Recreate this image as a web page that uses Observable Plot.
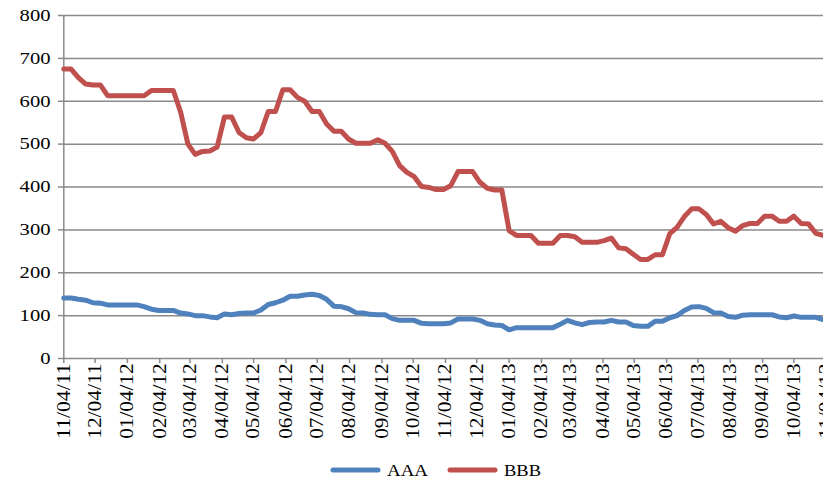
<!DOCTYPE html>
<html>
<head>
<meta charset="utf-8">
<script src="https://cdn.jsdelivr.net/npm/d3@7"></script>
<script src="https://cdn.jsdelivr.net/npm/@observablehq/plot@0.6"></script>
<style>
  html, body { margin: 0; padding: 0; background: #fff; overflow: hidden; }
  #chart svg { display: block; }
  #chart svg text, #legend text { font-family: "Liberation Serif", "Times New Roman", serif; }
  #legend { position: relative; height: 29px; }
  #legend svg { position: absolute; top: 0; left: 0; }
</style>
</head>
<body>
<div id="chart"></div>
<div id="legend"></div>
<script>
// Weekly spreads (bp), Fridays from 4 Nov 2011 to 1 Nov 2013
const seriesNames = ["AAA", "BBB"];
const seriesColors = ["#4F81BD", "#C0504D"];

const aaa = [
  141, 141, 138, 136, 130, 129, 125, 125, 125, 125,
  125, 121, 115, 112, 112, 112, 106, 104, 100, 100,
  97, 95, 104, 102, 105, 106, 106, 113, 126, 130,
  136, 145, 145, 148, 150, 147, 138, 122, 121, 116,
  107, 106, 103, 102, 102, 93, 89, 89, 89, 82,
  81, 81, 81, 83, 92, 92, 92, 89, 81, 78,
  77, 67, 72, 72, 72, 72, 72, 72, 80, 89,
  83, 79, 84, 85, 85, 89, 85, 85, 77, 75,
  75, 87, 87, 95, 100, 112, 120, 121, 117, 107,
  106, 98, 96, 101, 102, 102, 102, 102, 97, 95,
  99, 96, 96, 96, 91
];

const bbb = [
  675, 675, 655, 640, 638, 638, 613, 613, 613, 613,
  613, 613, 625, 625, 625, 625, 575, 500, 476, 483,
  484, 493, 563, 563, 527, 515, 512, 527, 576, 576,
  627, 627, 609, 600, 576, 576, 547, 530, 530, 512,
  502, 502, 502, 510, 502, 483, 450, 434, 424, 401,
  399, 394, 394, 403, 436, 436, 436, 411, 397, 393,
  393, 298, 287, 287, 287, 269, 269, 269, 287, 287,
  284, 271, 271, 271, 275, 281, 258, 256, 243, 231,
  231, 242, 242, 291, 306, 331, 349, 349, 336, 314,
  320, 305, 297, 310, 315, 315, 332, 332, 320, 320,
  332, 315, 314, 292, 287
];

const yTicks = [0, 100, 200, 300, 400, 500, 600, 700, 800];

const startDate = new Date(Date.UTC(2011, 10, 4));
const endDate = new Date(Date.UTC(2013, 10, 4));
const weeks = d3.utcDay.range(startDate, d3.utcDay.offset(startDate, 7 * aaa.length), 7);
const monthTicks = d3.utcMonth.range(d3.utcMonth.floor(startDate), d3.utcMonth.offset(endDate, 1))
  .map(d => d3.utcDay.offset(d, 3));

const rows = [];
weeks.forEach((d, i) => {
  rows.push({date: d, series: "AAA", value: aaa[i]});
  rows.push({date: d, series: "BBB", value: bbb[i]});
});

const gridColor = "#8a8a8a";

const chart = Plot.plot({
  width: 823,
  height: 450,
  marginTop: 15,
  marginBottom: 92,
  marginLeft: 63,
  marginRight: 0,
  style: {fontSize: "17px", color: "#000", background: "#fff"},
  x: {type: "utc", domain: [startDate, endDate], range: [63.3, 825.7]},
  y: {domain: [0, 800]},
  color: {domain: seriesNames, range: seriesColors},
  marks: [
    Plot.gridY(yTicks, {stroke: gridColor, strokeOpacity: 1, strokeWidth: 1.5}),
    Plot.ruleX([startDate], {y1: 0, y2: 800, stroke: gridColor, strokeWidth: 1.5}),
    Plot.axisY(yTicks, {tickSize: 5, tickPadding: 8, stroke: gridColor, strokeWidth: 1.5, label: null, fontSize: 16.5}),
    Plot.axisX(monthTicks, {
      tickSize: 5, tickPadding: 0, tickRotate: -90, stroke: gridColor, strokeWidth: 1.5,
      tickFormat: d3.utcFormat("%m/%d/%y"), label: null, fontSize: 18
    }),
    Plot.line(rows, {x: "date", y: "value", z: "series", stroke: "series", strokeWidth: 5, strokeLinejoin: "round", strokeLinecap: "round"})
  ]
});
document.getElementById("chart").appendChild(chart);

// Wide serif tick labels: fix each label's run length
function stretchLabels(name, perChar) {
  d3.select(chart).selectAll("g").filter(function() {
    return this.getAttribute("aria-label") === name;
  }).selectAll("text").each(function() {
    const text = this.textContent;
    let w = 0;
    for (const c of text) w += c === "/" ? perChar * 0.55 : perChar;
    this.setAttribute("textLength", w.toFixed(1));
    this.setAttribute("lengthAdjust", "spacingAndGlyphs");
  });
}
stretchLabels("y-axis tick label", 10.3);
stretchLabels("x-axis tick label", 10.6);

// Legend below the plot
const legend = d3.select("#legend").append("svg").attr("width", 823).attr("height", 29);
const swatchX = [330, 447];
const labelWidths = [41, 37];
seriesNames.forEach((name, i) => {
  legend.append("line")
    .attr("x1", swatchX[i] + 3).attr("x2", swatchX[i] + 48).attr("y1", 20).attr("y2", 20)
    .attr("stroke", seriesColors[i]).attr("stroke-width", 5).attr("stroke-linecap", "round");
  legend.append("text")
    .attr("x", swatchX[i] + 57).attr("y", 26)
    .attr("font-size", 16.5)
    .attr("textLength", labelWidths[i]).attr("lengthAdjust", "spacingAndGlyphs")
    .text(name);
});
</script>
</body>
</html>
